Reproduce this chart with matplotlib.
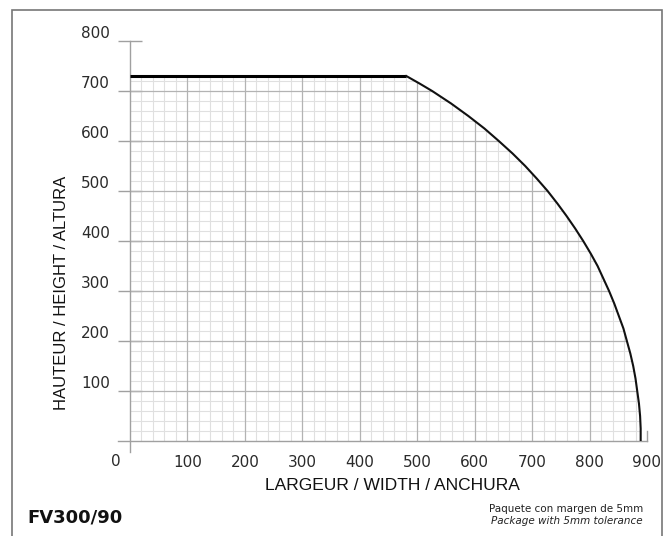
import numpy as np
import matplotlib
matplotlib.use("Agg")
import matplotlib.pyplot as plt
from matplotlib.patches import Polygon, Rectangle

# Envelope of the package (mm)
width_mm = [0, 481, 504, 526, 559, 589, 617, 642, 666, 688, 708, 727, 744, 760, 775, 789,
            802, 814, 824, 834, 843, 851, 859, 865, 871, 876, 880, 883, 886, 888, 889, 889]
height_mm = [730, 730, 715, 700, 675, 650, 625, 600, 575, 550, 525, 500, 475, 450, 425, 400,
             375, 350, 325, 300, 275, 250, 225, 200, 175, 150, 125, 100, 75, 50, 25, 0]

x_ticks = [0, 100, 200, 300, 400, 500, 600, 700, 800, 900]
x_labels = ["", "100", "200", "300", "400", "500", "600", "700", "800", "900"]
y_ticks = [100, 200, 300, 400, 500, 600, 700, 800]
y_labels = ["100", "200", "300", "400", "500", "600", "700", "800"]

label_font = ["Liberation Sans", "Arial", "DejaVu Sans"]

fig = plt.figure(figsize=(6.67, 5.36), dpi=100)
ax = fig.add_axes([0.1949, 0.1772, 0.7751, 0.7463])
ax.set_xlim(0, 900)
ax.set_ylim(0, 800)
for s in ax.spines.values():
    s.set_visible(False)

# grid only inside the envelope
outline = Polygon(list(zip([0] + width_mm, [0] + height_mm)), closed=True,
                  facecolor="none", edgecolor="none", transform=ax.transData)
ax.add_patch(outline)
minor = np.arange(20, 900, 20)
minor = minor[minor % 100 != 0]
minor_y = np.arange(20, 800, 20)
minor_y = minor_y[minor_y % 100 != 0]
major = np.arange(100, 900, 100)
major_y = np.arange(100, 800, 100)
for coll in [ax.vlines(minor, 0, 800, color="#e0e0e0", lw=0.8),
             ax.hlines(minor_y, 0, 900, color="#e0e0e0", lw=0.8)]:
    coll.set_clip_path(outline)
for coll in [ax.vlines(major, 0, 800, color="#b3b3b3", lw=0.9),
             ax.hlines(major_y, 0, 900, color="#b3b3b3", lw=0.9)]:
    coll.set_clip_path(outline)

# axis lines
ax.plot([-21, 900], [0, 0], color="#a0a0a0", lw=1, clip_on=False)
ax.plot([0, 0], [-22, 800], color="#a0a0a0", lw=1, clip_on=False)
ax.plot([900, 900], [0, 21], color="#a0a0a0", lw=1, clip_on=False)

# envelope
ax.plot(width_mm[:2], height_mm[:2], color="black", lw=2.2, solid_capstyle="butt")
ax.plot(width_mm[1:], height_mm[1:], color="#111111", lw=1.5)

ax.set_xticks(x_ticks)
ax.set_xticklabels(x_labels)
ax.set_yticks(y_ticks)
ax.set_yticklabels(y_labels)
ax.tick_params(axis="x", length=0, pad=10, labelsize=11, labelcolor="#2a2a2a")
ax.tick_params(axis="y", direction="inout", length=17, width=1, color="#a0a0a0",
               pad=6, labelsize=11, labelcolor="#2a2a2a")
for lab in ax.get_yticklabels():
    lab.set_verticalalignment("bottom")
ax.text(-25, -40, "0", ha="center", va="center", fontsize=11, color="#2a2a2a")

fig.text(392 / 667, 1 - 485 / 536, "LARGEUR / WIDTH / ANCHURA", ha="center", va="center",
         fontsize=12.5, family=label_font, color="#111111")
fig.text(61 / 667, 1 - 293 / 536, "HAUTEUR / HEIGHT / ALTURA", ha="center", va="center",
         rotation=90, fontsize=12, family=label_font, color="#111111")

fig.text(27 / 667, 1 - 517 / 536, "FV300/90", ha="left", va="center",
         fontsize=13, fontweight="bold", color="#111111")
fig.text(643 / 667, 1 - 509 / 536, "Paquete con margen de 5mm", ha="right", va="center",
         fontsize=7.5, color="#222222")
fig.text(643 / 667, 1 - 521 / 536, "Package with 5mm tolerance", ha="right", va="center",
         fontsize=7.5, style="italic", color="#222222")

fig.add_artist(Rectangle((12 / 667, -0.1), (662 - 12) / 667, 1.1 - 10 / 536,
                         transform=fig.transFigure, fill=False, edgecolor="#777777", lw=1.2))

fig.savefig("out.png", dpi=100)
